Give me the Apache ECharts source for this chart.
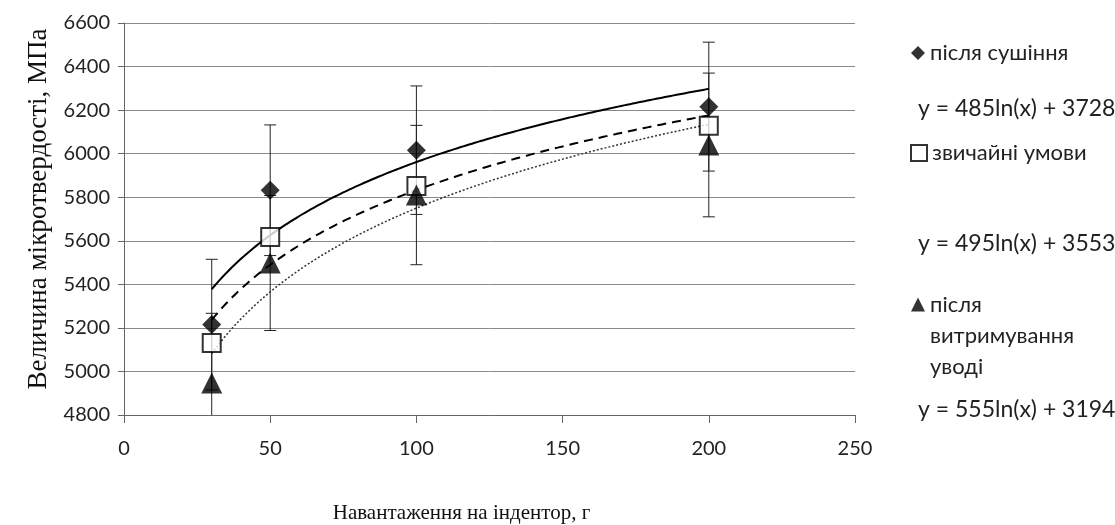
<!DOCTYPE html>
<html>
<head>
<meta charset="utf-8">
<script src="https://cdn.jsdelivr.net/npm/echarts@6/dist/echarts.min.js"></script>
<style>
html,body{margin:0;padding:0;background:#fff;}
#chart{width:1115px;height:525px;}
</style>
</head>
<body>
<div id="chart"></div>
<script>
// ---- data ----
const xValues = [30, 50, 100, 200];
const seriesNames = ['після сушіння', 'звичайні умови', 'після витримування уводі'];
const dryingValues = [5215, 5832, 6016, 6216];
const normalValues = [5131, 5617, 5852, 6128];
const soakedValues = [4947, 5498, 5810, 6040];
const dryingErr = [300, 300, 295, 296];
const soakedErr = [320, 310, 320, 330];
// logarithmic trend lines y = a ln(x) + b (from the legend text)
const trendA = [485, 495, 555];
const trendB = [3728, 3553, 3194];
const trendLabels = ['y = 485ln(x) + 3728', 'y = 495ln(x) + 3553', 'y = 555ln(x) + 3194'];
const xTickValues = [0, 50, 100, 150, 200, 250];
const yTickValues = [4800, 5000, 5200, 5400, 5600, 5800, 6000, 6200, 6400, 6600];
const xAxisTitle = 'Навантаження на індентор, г';
const yAxisTitle = 'Величина мікротвердості, МПа';

// ---- build ----
const pairs = vals => xValues.map((x, i) => [x, vals[i]]);
const errData = (vals, errs) => xValues.map((x, i) => [x, vals[i] - errs[i], vals[i] + errs[i]]);
const trendData = k => {
  const out = [];
  for (let x = xValues[0]; x <= xValues[xValues.length - 1]; x += 1) {
    out.push([x, trendA[k] * Math.log(x) + trendB[k]]);
  }
  return out;
};

const errRender = (params, api) => {
  const x = api.value(0);
  const lo = api.coord([x, api.value(1)]);
  const hi = api.coord([x, api.value(2)]);
  const cap = 6;
  const style = { stroke: '#222', lineWidth: 1 };
  return {
    type: 'group',
    children: [
      { type: 'line', shape: { x1: lo[0], y1: lo[1], x2: hi[0], y2: hi[1] }, style },
      { type: 'line', shape: { x1: hi[0] - cap, y1: hi[1], x2: hi[0] + cap, y2: hi[1] }, style },
      { type: 'line', shape: { x1: lo[0] - cap, y1: lo[1], x2: lo[0] + cap, y2: lo[1] }, style }
    ]
  };
};

const sansFont = 'Lato, "Open Sans", sans-serif';
const serifFont = '"Liberation Serif", "DejaVu Serif", serif';
const legendText = { fontFamily: sansFont, fontSize: 22, color: '#222' };
const chart = echarts.init(document.getElementById('chart'), null, { renderer: 'canvas' });
chart.setOption({
  animation: false,
  backgroundColor: '#fff',
  grid: { left: 124, right: 260, top: 23, bottom: 110, outerBoundsMode: 'none', containLabel: false },
  xAxis: {
    type: 'value', min: xTickValues[0], max: xTickValues[xTickValues.length - 1], interval: 50,
    axisLine: { lineStyle: { color: '#666', width: 1 } },
    axisTick: { show: true, length: 8, lineStyle: { color: '#666' } },
    axisLabel: { color: '#222', fontSize: 20, fontFamily: sansFont, margin: 24 },
    splitLine: { show: false },
    name: xAxisTitle, nameLocation: 'middle', nameGap: 88,
    nameTextStyle: { fontFamily: serifFont, fontSize: 21, color: '#111', padding: [0, 56, 0, 0] }
  },
  yAxis: {
    type: 'value', min: yTickValues[0], max: yTickValues[yTickValues.length - 1], interval: 200,
    axisLine: { show: true, lineStyle: { color: '#666', width: 1 } },
    axisTick: { show: true, length: 6, lineStyle: { color: '#666' } },
    axisLabel: { color: '#222', fontSize: 20, fontFamily: sansFont, margin: 14, formatter: v => String(v) },
    splitLine: { show: true, lineStyle: { color: '#8a8a8a', width: 1 } },
    name: yAxisTitle, nameLocation: 'middle', nameGap: 72, nameRotate: 90,
    nameTextStyle: { fontFamily: serifFont, fontSize: 27, color: '#111', padding: [0, 0, 0, 20] }
  },
  legend: [
    { data: [{ name: seriesNames[0], icon: 'diamond' }], left: 911, top: 42, orient: 'vertical', padding: 0,
      itemWidth: 14, itemHeight: 14, itemGap: 4, textStyle: legendText },
    { data: [{ name: seriesNames[1], icon: 'rect' }], left: 910, top: 142, orient: 'vertical', padding: 0,
      itemWidth: 16, itemHeight: 16, itemGap: 4, textStyle: legendText },
    { data: [{ name: seriesNames[2], icon: 'triangle' }], left: 911, top: 227, orient: 'vertical', padding: 0,
      itemWidth: 14, itemHeight: 14, itemGap: 4,
      formatter: n => '\n\n' + n.replace(' витримування ', '\nвитримування\n'),
      textStyle: Object.assign({}, legendText, { lineHeight: 31 }) }
  ],
  graphic: trendLabels.map((t, k) => ({
    type: 'text', left: 918, top: [97, 232, 398][k],
    style: { text: t, fontFamily: sansFont, fontSize: 23, fill: '#222' }
  })),
  series: [
    { type: 'custom', name: 'err1', renderItem: errRender, data: errData(dryingValues, dryingErr), clip: true, z: 2, silent: true },
    { type: 'custom', name: 'err3', renderItem: errRender, data: errData(soakedValues, soakedErr), clip: true, z: 2, silent: true },
    { type: 'line', name: 'trend1', data: trendData(0), showSymbol: false, symbol: 'none', clip: true, z: 3, silent: true,
      lineStyle: { color: '#000', width: 2, type: 'solid' } },
    { type: 'line', name: 'trend2', data: trendData(1), showSymbol: false, symbol: 'none', clip: true, z: 3, silent: true,
      lineStyle: { color: '#000', width: 2, type: [9, 6] } },
    { type: 'line', name: 'trend3', data: trendData(2), showSymbol: false, symbol: 'none', clip: true, z: 3, silent: true,
      lineStyle: { color: '#333', width: 1.5, type: [2, 2] } },
    { type: 'scatter', name: seriesNames[0], data: pairs(dryingValues), symbol: 'diamond', symbolSize: [19, 19], z: 5,
      itemStyle: { color: '#000' } },
    { type: 'scatter', name: seriesNames[1], data: pairs(normalValues), symbol: 'rect', symbolSize: 18, z: 5,
      itemStyle: { color: '#fff', borderColor: '#000', borderWidth: 2 } },
    { type: 'scatter', name: seriesNames[2], data: pairs(soakedValues), symbol: 'triangle', symbolSize: [21, 21], z: 5,
      itemStyle: { color: '#000' } }
  ]
});
</script>
</body>
</html>
